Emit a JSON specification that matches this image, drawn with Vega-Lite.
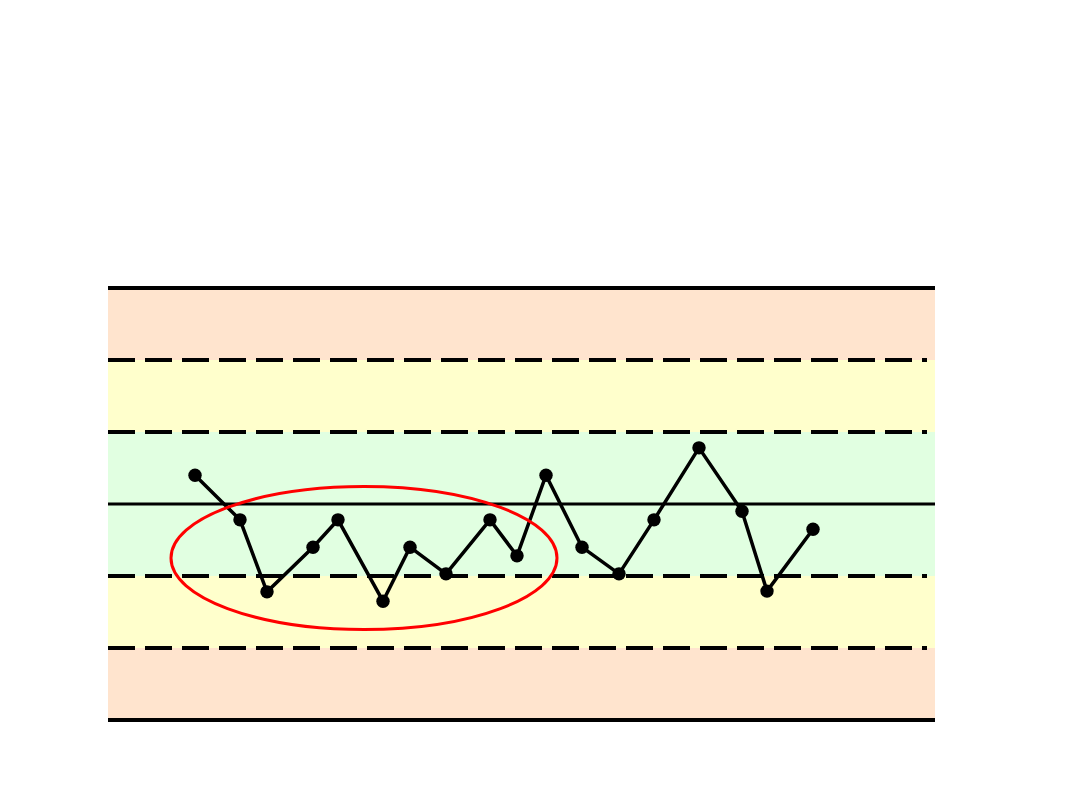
{
  "$schema": "https://vega.github.io/schema/vega-lite/v6.json",
  "width": 827,
  "height": 432,
  "autosize": {"type": "none"},
  "padding": {"left": 108, "top": 288, "right": 145, "bottom": 90},
  "background": "white",
  "config": {"view": {"stroke": null}},
  "datasets": {
    "bands": [
      {"zone": "C", "lo": -1, "hi": 1},
      {"zone": "B", "lo": 1, "hi": 2},
      {"zone": "B", "lo": -2, "hi": -1},
      {"zone": "A", "lo": 2, "hi": 3},
      {"zone": "A", "lo": -3, "hi": -2}
    ],
    "limits": [{"sigma": 3}, {"sigma": -3}],
    "dashed": [{"sigma": 2}, {"sigma": 1}, {"sigma": -1}, {"sigma": -2}],
    "center": [{"sigma": 0}],
    "series": [
      {"pos": 195, "value": 0.40},
      {"pos": 240, "value": -0.22},
      {"pos": 267, "value": -1.22},
      {"pos": 313, "value": -0.60},
      {"pos": 338, "value": -0.22},
      {"pos": 383, "value": -1.35},
      {"pos": 410, "value": -0.60},
      {"pos": 446, "value": -0.97},
      {"pos": 490, "value": -0.22},
      {"pos": 517, "value": -0.72},
      {"pos": 546, "value": 0.40},
      {"pos": 582, "value": -0.60},
      {"pos": 619, "value": -0.97},
      {"pos": 654, "value": -0.22},
      {"pos": 699, "value": 0.78},
      {"pos": 742, "value": -0.10},
      {"pos": 767, "value": -1.21},
      {"pos": 813, "value": -0.35}
    ],
    "highlight": [{"pos": 364, "value": -0.75}]
  },
  "layer": [
    {
      "data": {"name": "bands"},
      "mark": {"type": "rect"},
      "encoding": {
        "x": {"datum": 108, "type": "quantitative", "scale": {"domain": [108, 935], "nice": false, "zero": false}, "axis": null},
        "x2": {"datum": 935},
        "y": {"field": "lo", "type": "quantitative", "scale": {"domain": [-3, 3], "nice": false, "zero": false}, "axis": null},
        "y2": {"field": "hi"},
        "color": {"field": "zone", "type": "nominal", "scale": {"domain": ["A", "B", "C"], "range": ["#FFE4CE", "#FFFFCC", "#E1FFE1"]}, "legend": null}
      }
    },
    {
      "data": {"name": "limits"},
      "mark": {"type": "rule", "color": "black", "strokeWidth": 4},
      "encoding": {
        "x": {"datum": 108, "type": "quantitative"},
        "x2": {"datum": 935},
        "y": {"field": "sigma", "type": "quantitative"}
      }
    },
    {
      "data": {"name": "dashed"},
      "mark": {"type": "rule", "color": "black", "strokeWidth": 4, "strokeDash": [27, 10]},
      "encoding": {
        "x": {"datum": 108, "type": "quantitative"},
        "x2": {"datum": 927},
        "y": {"field": "sigma", "type": "quantitative"}
      }
    },
    {
      "data": {"name": "center"},
      "mark": {"type": "rule", "color": "black", "strokeWidth": 3},
      "encoding": {
        "x": {"datum": 108, "type": "quantitative"},
        "x2": {"datum": 935},
        "y": {"field": "sigma", "type": "quantitative"}
      }
    },
    {
      "data": {"name": "series"},
      "mark": {"type": "line", "color": "black", "strokeWidth": 3.5},
      "encoding": {
        "x": {"field": "pos", "type": "quantitative"},
        "y": {"field": "value", "type": "quantitative"}
      }
    },
    {
      "data": {"name": "series"},
      "mark": {"type": "point", "filled": true, "color": "black", "opacity": 1, "size": 180},
      "encoding": {
        "x": {"field": "pos", "type": "quantitative"},
        "y": {"field": "value", "type": "quantitative"}
      }
    },
    {
      "data": {"name": "highlight"},
      "mark": {
        "type": "point",
        "filled": false,
        "stroke": "#FF0000",
        "strokeWidth": 3,
        "opacity": 1,
        "size": 148996,
        "shape": "M-1,0C-1,-0.2046,-0.5523,-0.3705,0,-0.3705C0.5523,-0.3705,1,-0.2046,1,0C1,0.2046,0.5523,0.3705,0,0.3705C-0.5523,0.3705,-1,0.2046,-1,0Z"
      },
      "encoding": {
        "x": {"field": "pos", "type": "quantitative"},
        "y": {"field": "value", "type": "quantitative"}
      }
    }
  ]
}
